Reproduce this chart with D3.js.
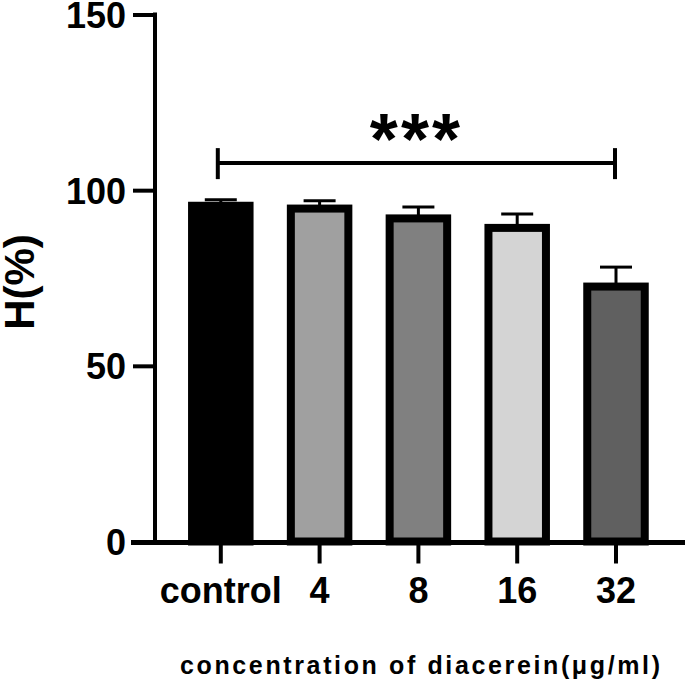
<!DOCTYPE html>
<html>
<head>
<meta charset="utf-8">
<script src="https://cdn.jsdelivr.net/npm/d3@7"></script>
<style>
  html, body { margin: 0; padding: 0; background: #fff; }
  svg { display: block; }
  text { font-family: "Liberation Sans", Arial, sans-serif; font-weight: bold; fill: #000; }
</style>
</head>
<body>
<svg id="chart" width="685" height="684"></svg>
<script>
// ---- data ----
const categories = ["control", "4", "8", "16", "32"];
const means = [96.7, 95.9, 93.1, 90.4, 73.7];
const errors = [0.6, 1.1, 2.1, 2.8, 4.4];
const fills = ["#000000", "#a0a0a0", "#808080", "#d4d4d4", "#606060"];
const yTicks = [0, 50, 100, 150];
const bracketValue = 107.7;
const bracketFrom = "control";
const bracketTo = "32";
const sigLabel = "***";
const yTitle = "H(%)";
const xTitle = "concentration of diacerein(\u03bcg/ml)";

// ---- layout ----
const svg = d3.select("#chart");
const y = d3.scaleLinear().domain([0, 150]).range([541.5, 14.5]);
const x = d3.scaleBand().domain(categories).range([171.4, 665.4])
  .paddingInner(0.337).paddingOuter(0.1685);
const axisX = 155;
const axisY = 542.5;

// bars (stroke inset so outer edge = value)
const bw = 8;
svg.append("g").selectAll("rect").data(categories).join("rect")
  .attr("x", d => x(d) + bw / 2)
  .attr("y", (d, i) => y(means[i]) + bw / 2)
  .attr("width", x.bandwidth() - bw)
  .attr("height", (d, i) => y(0) - y(means[i]) - bw / 2)
  .attr("fill", (d, i) => fills[i])
  .attr("stroke", "#000")
  .attr("stroke-width", bw);

// error bars
const eg = svg.append("g").attr("stroke", "#000").attr("stroke-width", 3);
categories.forEach((c, i) => {
  const cx = x(c) + x.bandwidth() / 2;
  eg.append("line").attr("x1", cx).attr("x2", cx)
    .attr("y1", y(means[i]) + 1).attr("y2", y(means[i] + errors[i]));
  eg.append("line").attr("x1", cx - 16).attr("x2", cx + 16)
    .attr("y1", y(means[i] + errors[i])).attr("y2", y(means[i] + errors[i]));
});

// y axis
const yAxis = d3.axisLeft(y).tickValues(yTicks).tickSize(22).tickSizeOuter(0).tickPadding(7);
const gy = svg.append("g").attr("transform", `translate(${axisX},0)`).call(yAxis);
gy.select(".domain").remove();
gy.attr("font-family", null);
gy.selectAll(".tick line").attr("stroke", "#000").attr("stroke-width", 4);
gy.selectAll(".tick text").attr("font-size", 36).attr("dy", "0.36em");
svg.append("line").attr("x1", axisX).attr("x2", axisX)
  .attr("y1", y(150) - 2).attr("y2", axisY)
  .attr("stroke", "#000").attr("stroke-width", 4);

// x axis
const xAxis = d3.axisBottom(x).tickSize(21).tickSizeOuter(0).tickPadding(14);
const gx = svg.append("g").attr("transform", `translate(0,${axisY})`).call(xAxis);
gx.select(".domain").remove();
gx.attr("font-family", null);
gx.selectAll(".tick line").attr("stroke", "#000").attr("stroke-width", 4);
gx.selectAll(".tick text").attr("font-size", 36).attr("dy", "0.71em");
svg.append("line").attr("x1", 131).attr("x2", 685)
  .attr("y1", axisY).attr("y2", axisY)
  .attr("stroke", "#000").attr("stroke-width", 5);

// significance bracket
const bx1 = x(bracketFrom) + x.bandwidth() / 2 - 3;
const bx2 = x(bracketTo) + x.bandwidth() / 2 - 1;
const by = y(bracketValue);
const bg = svg.append("g").attr("stroke", "#000").attr("stroke-width", 4);
bg.append("line").attr("x1", bx1).attr("x2", bx2).attr("y1", by).attr("y2", by);
bg.append("line").attr("x1", bx1).attr("x2", bx1).attr("y1", by - 15).attr("y2", by + 16);
bg.append("line").attr("x1", bx2).attr("x2", bx2).attr("y1", by - 15).attr("y2", by + 16);
svg.append("text").attr("x", (bx1 + bx2) / 2).attr("y", by + 1)
  .attr("text-anchor", "middle").attr("font-size", 72)
  .attr("letter-spacing", 3)
  .text(sigLabel);

// axis titles
svg.append("text").attr("transform", "translate(34,282) rotate(-90)")
  .attr("text-anchor", "middle").attr("font-size", 42).text(yTitle);
svg.append("text").attr("x", 180).attr("y", 674)
  .attr("font-size", 25).attr("textLength", 480).attr("lengthAdjust", "spacing")
  .text(xTitle);
</script>
</body>
</html>
